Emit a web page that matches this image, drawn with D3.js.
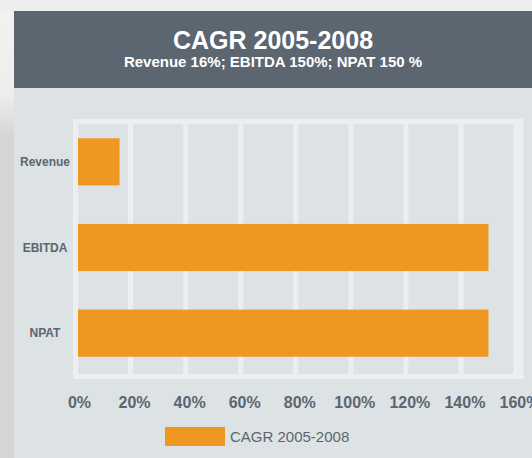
<!doctype html>
<html lang="en">
  <head>
    <meta charset="UTF-8" />
    <title>CAGR 2005-2008</title>
    <script src="https://d3js.org/d3.v7.min.js"></script>
    <style>
      body {
        margin: 0;
        font-family: 'Liberation Sans', Arial, sans-serif;
      }
      .cat-label {
        font-size: 12px;
        font-weight: bold;
        fill: #5b6670;
      }
      .tick-label {
        font-size: 16px;
        font-weight: bold;
        fill: #5b6670;
      }
      .legend-text {
        font-size: 15px;
        fill: #5b6670;
      }
    </style>
  </head>
  <body>
    <svg id="chart"></svg>
    <script>
      // Data
      const categories = ['Revenue', 'EBITDA', 'NPAT']
      const cagrValues = [16, 150, 150]
      const tickValues = [0, 20, 40, 60, 80, 100, 120, 140, 160]
      const seriesName = 'CAGR 2005-2008'

      const W = 532
      const H = 458
      const svg = d3.select('#chart').attr('width', W).attr('height', H)

      // page background
      const defs = svg.append('defs')
      const grad = defs
        .append('linearGradient')
        .attr('id', 'leftFade')
        .attr('x1', 0)
        .attr('y1', 0)
        .attr('x2', 0)
        .attr('y2', 1)
      grad.append('stop').attr('offset', '0%').attr('stop-color', '#f2f2f2')
      grad.append('stop').attr('offset', '20%').attr('stop-color', '#eeeeee')
      grad.append('stop').attr('offset', '30%').attr('stop-color', '#d6d6d6')
      grad.append('stop').attr('offset', '100%').attr('stop-color', '#d6d6d6')

      svg.append('rect').attr('width', W).attr('height', H).attr('fill', 'url(#leftFade)')
      svg.append('rect').attr('width', W).attr('height', 11).attr('fill', '#eeeeee')

      // panel + header
      const panelX = 14
      svg
        .append('rect')
        .attr('x', panelX)
        .attr('y', 11)
        .attr('width', W - panelX)
        .attr('height', H - 11)
        .attr('fill', '#dde2e4')
      svg
        .append('rect')
        .attr('x', panelX)
        .attr('y', 11)
        .attr('width', W - panelX)
        .attr('height', 77)
        .attr('fill', '#5b6670')

      const cx = (panelX + W) / 2
      svg
        .append('text')
        .attr('x', cx)
        .attr('y', 49)
        .attr('text-anchor', 'middle')
        .attr('fill', '#fff')
        .style('font-size', '25px')
        .style('font-weight', 'bold')
        .text('CAGR 2005-2008')
      svg
        .append('text')
        .attr('x', cx)
        .attr('y', 67)
        .attr('text-anchor', 'middle')
        .attr('fill', '#fff')
        .style('font-size', '15px')
        .style('font-weight', 'bold')
        .text('Revenue 16%; EBITDA 150%; NPAT 150 %')

      // scales
      const x = d3.scaleLinear().domain([0, 160]).range([75.5, 516])
      const y = d3
        .scaleBand()
        .domain(categories)
        .range([119, 376])
        .paddingInner(0.45)
        .paddingOuter(0.225)

      // grid
      const plotTop = 121.5
      const plotBottom = 376.5
      svg
        .append('g')
        .selectAll('line')
        .data(tickValues)
        .enter()
        .append('line')
        .attr('x1', (d) => x(d))
        .attr('x2', (d) => x(d))
        .attr('y1', plotTop)
        .attr('y2', plotBottom)
        .attr('stroke', '#eceef0')
        .attr('stroke-width', 5)

      // bars
      svg
        .append('g')
        .selectAll('rect')
        .data(categories)
        .enter()
        .append('rect')
        .attr('x', x(0))
        .attr('y', (d) => y(d))
        .attr('width', (d, i) => x(cagrValues[i]) - x(0))
        .attr('height', y.bandwidth())
        .attr('fill', '#ee9721')

      // plot frame on top
      svg
        .append('rect')
        .attr('x', x(0))
        .attr('y', plotTop)
        .attr('width', 521 - x(0))
        .attr('height', plotBottom - plotTop)
        .attr('fill', 'none')
        .attr('stroke', '#eceef0')
        .attr('stroke-width', 5)

      // category labels
      svg
        .append('g')
        .selectAll('text')
        .data(categories)
        .enter()
        .append('text')
        .attr('class', 'cat-label')
        .attr('x', 45)
        .attr('y', (d) => y(d) + y.bandwidth() / 2 + 4)
        .attr('text-anchor', 'middle')
        .text((d) => d)

      // x tick labels
      svg
        .append('g')
        .selectAll('text')
        .data(tickValues)
        .enter()
        .append('text')
        .attr('class', 'tick-label')
        .attr('x', (d) => x(d) + 4)
        .attr('y', 408)
        .attr('text-anchor', 'middle')
        .text((d) => d + '%')

      // legend
      svg
        .append('rect')
        .attr('x', 165)
        .attr('y', 427)
        .attr('width', 60)
        .attr('height', 19)
        .attr('fill', '#ee9721')
      svg
        .append('text')
        .attr('class', 'legend-text')
        .attr('x', 230)
        .attr('y', 442)
        .text(seriesName)
    </script>
  </body>
</html>
